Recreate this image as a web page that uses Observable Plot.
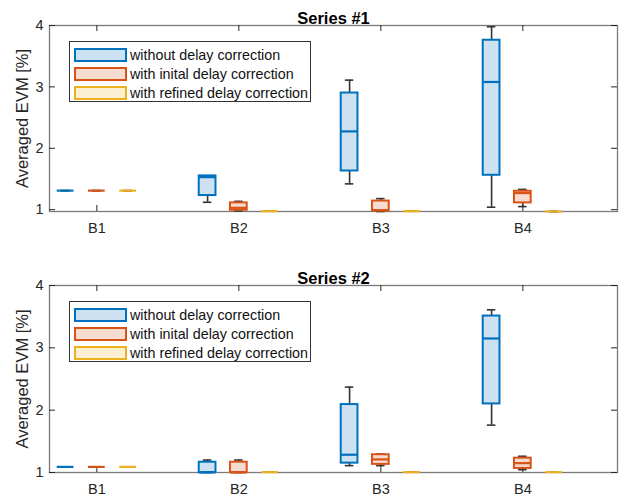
<!DOCTYPE html>
<html><head><meta charset="utf-8">
<script src="https://cdn.jsdelivr.net/npm/d3@7"></script>
<script src="https://cdn.jsdelivr.net/npm/@observablehq/plot@0.6"></script>
<style>
body{margin:0;background:#fff;font-family:"Liberation Sans",Arial,sans-serif;}
.panel{position:relative;width:636px;}
.legend{position:absolute;left:69px;width:242px;height:61px;box-sizing:border-box;background:#fff;border:1px solid #333;padding-top:3px;}
.row{display:flex;align-items:center;height:19.2px;}
.sw{width:53px;height:14px;box-sizing:border-box;border:2px solid;margin-left:4px;margin-right:3px;}
.lt{font-size:14.3px;color:#111;white-space:nowrap;}
</style></head><body><div id="wrap"></div>
<script>
const categories = ["B1","B2","B3","B4"];
const seriesNames = ["without delay correction","with inital delay correction","with refined delay correction"];
const panelTitles = ["Series #1","Series #2"];
const yLabel = "Averaged EVM [%]";
const yTicks = [1,2,3,4];
const strokes = ["#0072BD","#D95319","#EDB120"];
const fills = ["#cce2f2","#f6dccf","#fbf0d2"];

// stats per category: [min, q1, median, q3, max]
const s1Without = [[1.31,1.31,1.31,1.31,1.31],[1.12,1.23,1.53,1.55,1.55],[1.42,1.63,2.275,2.90,3.11],[1.04,1.56,3.08,3.76,3.98]];
const s1Inital  = [[1.31,1.31,1.31,1.31,1.31],[0.98,0.99,1.03,1.11,1.135],[0.97,0.98,0.99,1.14,1.18],[1.05,1.11,1.27,1.30,1.33]];
const s1Refined = [[1.31,1.31,1.31,1.31,1.31],[0.975,0.975,0.975,0.975,0.975],[0.975,0.975,0.975,0.975,0.975],[0.97,0.97,0.97,0.97,0.97]];
const s2Without = [[1.09,1.09,1.09,1.09,1.09],[1.0,1.0,1.0,1.165,1.20],[1.11,1.15,1.285,2.09,2.37],[1.76,2.10,3.15,3.51,3.61]];
const s2Inital  = [[1.09,1.09,1.09,1.09,1.09],[1.0,1.0,1.0,1.165,1.20],[1.11,1.13,1.21,1.285,1.295],[1.045,1.065,1.15,1.23,1.26]];
const s2Refined = [[1.09,1.09,1.09,1.09,1.09],[1.005,1.005,1.005,1.005,1.005],[1.005,1.005,1.005,1.005,1.005],[1.005,1.005,1.005,1.005,1.005]];

const offsets = [-0.22, 0, 0.22];
const hw = 0.059, cw = 0.03;

function makePanel(title, series, yMin, height, marginTop, marginBottom, legendTop) {
  const rows = [];
  series.forEach((ser, si) => ser.forEach((st, ci) => rows.push({
    si, pos: ci + 1 + offsets[si], min: st[0], q1: st[1], med: st[2], q3: st[3], max: st[4]
  })));
  const marginLeft = 49, marginRight = 19, width = 636;
  const innerH = height - marginTop - marginBottom;
  const innerW = width - marginLeft - marginRight;
  const tk = 6;
  const plot = Plot.plot({
    width, height, marginTop, marginBottom, marginLeft, marginRight,
    style: {fontFamily: "Liberation Sans, Arial, sans-serif", fontSize: "14px", color: "#262626", background: "#fff", overflow: "visible"},
    x: {domain: [2/3, 14/3]},
    y: {domain: [yMin, 4]},
    color: {type: "identity"},
    marks: [
      Plot.frame({stroke: "#7a7a7a", strokeWidth: 1.3}),
      Plot.ruleX(categories.map((c, i) => i + 1), {x: d => d, insetTop: innerH - tk, stroke: "#262626"}),
      Plot.ruleX(categories.map((c, i) => i + 1), {x: d => d, insetBottom: innerH - tk, stroke: "#262626"}),
      Plot.ruleY(yTicks, {y: d => d, insetRight: innerW - tk, stroke: "#262626"}),
      Plot.ruleY(yTicks, {y: d => d, insetLeft: innerW - tk, stroke: "#262626"}),
      Plot.ruleX(rows, {x: "pos", y1: "q3", y2: "max", stroke: "#333", strokeWidth: 1.6}),
      Plot.ruleX(rows, {x: "pos", y1: "min", y2: "q1", stroke: "#333", strokeWidth: 1.6}),
      Plot.ruleY(rows, {y: "max", x1: d => d.pos - cw, x2: d => d.pos + cw, stroke: "#333", strokeWidth: 1.6}),
      Plot.ruleY(rows, {y: "min", x1: d => d.pos - cw, x2: d => d.pos + cw, stroke: "#333", strokeWidth: 1.6}),
      Plot.rect(rows, {x1: d => d.pos - hw, x2: d => d.pos + hw, y1: "q1", y2: "q3", fill: d => fills[d.si], stroke: d => strokes[d.si], strokeWidth: 2}),
      Plot.ruleY(rows, {y: "med", x1: d => d.pos - hw, x2: d => d.pos + hw, stroke: d => strokes[d.si], strokeWidth: 2.2}),
      Plot.axisX({ticks: categories.map((c, i) => i + 1), tickFormat: i => categories[i - 1], tickSize: 0, tickPadding: 11, fontSize: 14.5, label: null}),
      Plot.axisY({ticks: yTicks, tickFormat: d => String(d), tickSize: 0, tickPadding: 6, label: null, fontSize: 14.5}),
      Plot.text([yLabel], {frameAnchor: "left", rotate: -90, dx: -27, textAnchor: "middle", fontSize: 16.5, fill: "#262626"}),
      Plot.text([title], {frameAnchor: "top", dy: -13, fontWeight: "bold", fontSize: 16.5, fill: "#000"})
    ]
  });
  const div = document.createElement("div");
  div.className = "panel";
  div.style.height = height + "px";
  div.appendChild(plot);
  const leg = document.createElement("div");
  leg.className = "legend";
  leg.style.top = legendTop + "px";
  seriesNames.forEach((n, i) => {
    const r = document.createElement("div"); r.className = "row";
    const sw = document.createElement("div"); sw.className = "sw";
    sw.style.borderColor = strokes[i]; sw.style.background = fills[i];
    const t = document.createElement("span"); t.className = "lt"; t.textContent = n;
    r.appendChild(sw); r.appendChild(t); leg.appendChild(r);
  });
  div.appendChild(leg);
  return div;
}

const wrap = document.getElementById("wrap");
wrap.appendChild(makePanel(panelTitles[0], [s1Without, s1Inital, s1Refined], 0.97, 250, 25, 39, 41));
wrap.appendChild(makePanel(panelTitles[1], [s2Without, s2Inital, s2Refined], 1, 249, 35, 27, 51));
</script></body></html>
